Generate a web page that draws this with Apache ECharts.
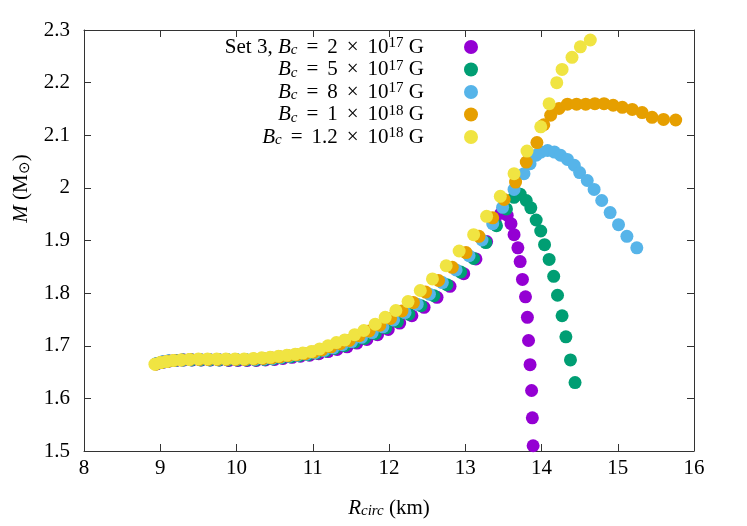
<!DOCTYPE html>
<html>
<head>
<meta charset="utf-8">
<script src="https://cdn.jsdelivr.net/npm/echarts@6/dist/echarts.min.js"></script>
<style>html,body{margin:0;padding:0;background:#fff}#c{width:747px;height:526px}</style>
</head>
<body>
<div id="c"></div>
<script>
// ---- data (R_circ in km, M in solar masses) ----
const seriesNames = ['Bc2e17', 'Bc5e17', 'Bc8e17', 'Bc1e18', 'Bc12e18'];
const seriesColors = ['#9400d3', '#009e73', '#56b4e9', '#e69f00', '#f0e442'];
const xTicks = [8, 9, 10, 11, 12, 13, 14, 15, 16];
const yTicks = [1.5, 1.6, 1.7, 1.8, 1.9, 2.0, 2.1, 2.2, 2.3];

const set3_Bc2e17 = [
 [8.96,1.666],[9.04,1.669],[9.12,1.671],[9.21,1.672],[9.31,1.673],[9.42,1.673],[9.54,1.673],[9.66,1.673],
 [9.78,1.673],[9.90,1.672],[10.02,1.672],[10.14,1.672],[10.26,1.672],[10.38,1.673],[10.50,1.674],[10.61,1.676],
 [10.73,1.678],[10.84,1.680],[10.96,1.682],[11.08,1.685],[11.20,1.689],[11.32,1.693],[11.45,1.698],[11.58,1.705],
 [11.71,1.712],[11.85,1.721],[11.99,1.731],[12.14,1.743],[12.30,1.757],[12.46,1.773],[12.63,1.792],[12.80,1.813],
 [12.98,1.837],[13.14,1.865],[13.28,1.898],[13.39,1.935],[13.47,1.952],[13.55,1.948],[13.60,1.932],[13.64,1.911],
 [13.69,1.886],[13.72,1.860],[13.75,1.826],[13.79,1.793],[13.815,1.754],[13.83,1.710],[13.85,1.664],[13.87,1.615],
 [13.88,1.563],[13.89,1.510]
];
const Bc5e17 = [
 [8.95,1.666],[9.03,1.669],[9.11,1.671],[9.20,1.672],[9.30,1.673],[9.41,1.673],[9.53,1.673],[9.65,1.673],
 [9.77,1.673],[9.89,1.673],[10.01,1.673],[10.13,1.673],[10.25,1.673],[10.37,1.674],[10.48,1.675],[10.59,1.677],
 [10.71,1.679],[10.82,1.681],[10.94,1.683],[11.05,1.686],[11.17,1.690],[11.29,1.695],[11.42,1.700],[11.55,1.707],
 [11.68,1.714],[11.82,1.723],[11.96,1.734],[12.11,1.746],[12.26,1.760],[12.42,1.776],[12.59,1.795],[12.76,1.816],
 [12.94,1.840],[13.11,1.866],[13.27,1.896],[13.41,1.928],[13.54,1.960],[13.64,1.982],[13.72,1.988],[13.80,1.976],
 [13.86,1.962],[13.93,1.939],[13.99,1.918],[14.04,1.892],[14.10,1.864],[14.16,1.832],[14.21,1.796],[14.27,1.757],
 [14.32,1.717],[14.38,1.673],[14.44,1.630]
];
const Bc8e17 = [
 [8.95,1.666],[9.02,1.669],[9.10,1.671],[9.19,1.672],[9.29,1.673],[9.40,1.674],[9.52,1.674],[9.64,1.674],
 [9.76,1.674],[9.88,1.674],[10.00,1.674],[10.12,1.674],[10.24,1.674],[10.36,1.675],[10.47,1.676],[10.58,1.678],
 [10.69,1.680],[10.80,1.682],[10.92,1.684],[11.03,1.687],[11.15,1.691],[11.27,1.696],[11.39,1.702],[11.51,1.708],
 [11.64,1.716],[11.78,1.725],[11.92,1.736],[12.06,1.749],[12.21,1.763],[12.37,1.779],[12.53,1.798],[12.70,1.820],
 [12.88,1.844],[13.05,1.871],[13.22,1.901],[13.36,1.932],[13.49,1.963],[13.64,1.997],[13.77,2.027],[13.85,2.046],
 [13.93,2.062],[13.99,2.068],[14.08,2.071],[14.17,2.068],[14.25,2.062],[14.34,2.054],[14.43,2.043],[14.50,2.029],
 [14.60,2.014],[14.69,1.997],[14.79,1.976],[14.90,1.953],[15.01,1.930],[15.12,1.908],[15.25,1.886]
];
const Bc1e18 = [
 [8.94,1.665],[9.01,1.668],[9.09,1.670],[9.18,1.672],[9.28,1.673],[9.39,1.674],[9.51,1.674],[9.63,1.674],
 [9.75,1.674],[9.87,1.674],[9.99,1.674],[10.11,1.674],[10.23,1.675],[10.35,1.676],[10.46,1.677],[10.57,1.679],
 [10.68,1.681],[10.79,1.683],[10.90,1.685],[11.01,1.688],[11.12,1.692],[11.24,1.698],[11.36,1.704],[11.48,1.710],
 [11.61,1.719],[11.74,1.728],[11.88,1.739],[12.02,1.752],[12.17,1.766],[12.32,1.782],[12.48,1.802],[12.65,1.824],
 [12.83,1.849],[13.01,1.877],[13.18,1.908],[13.36,1.943],[13.51,1.978],[13.66,2.011],[13.80,2.049],[13.94,2.086],
 [14.03,2.120],[14.12,2.138],[14.23,2.151],[14.34,2.159],[14.46,2.159],[14.58,2.159],[14.70,2.160],[14.82,2.160],
 [14.94,2.157],[15.06,2.153],[15.19,2.149],[15.32,2.143],[15.45,2.134],[15.60,2.130],[15.76,2.129]
];
const Bc12e18 = [
 [8.93,1.665],[9.00,1.668],[9.08,1.670],[9.17,1.672],[9.27,1.673],[9.38,1.674],[9.50,1.675],[9.62,1.675],
 [9.74,1.675],[9.86,1.675],[9.98,1.675],[10.10,1.675],[10.22,1.676],[10.33,1.677],[10.44,1.678],[10.55,1.680],
 [10.66,1.682],[10.77,1.684],[10.87,1.686],[10.98,1.689],[11.09,1.694],[11.20,1.700],[11.31,1.706],[11.42,1.711],
 [11.55,1.721],[11.67,1.729],[11.82,1.741],[11.95,1.754],[12.09,1.767],[12.25,1.784],[12.41,1.805],[12.57,1.827],
 [12.75,1.852],[12.92,1.880],[13.11,1.911],[13.28,1.946],[13.46,1.984],[13.64,2.027],[13.81,2.070],[13.99,2.116],
 [14.10,2.160],[14.20,2.200],[14.27,2.225],[14.40,2.248],[14.51,2.268],[14.64,2.281]
];
const seriesData = [set3_Bc2e17, Bc5e17, Bc8e17, Bc1e18, Bc12e18];

const legendText = {
  Bc2e17: '{n|Set 3, }{i|B}{sub|c}{op|=}{n|2}{op|×}{n|10}{sup|17}{n| G}',
  Bc5e17: '{i|B}{sub|c}{op|=}{n|5}{op|×}{n|10}{sup|17}{n| G}',
  Bc8e17: '{i|B}{sub|c}{op|=}{n|8}{op|×}{n|10}{sup|17}{n| G}',
  Bc1e18: '{i|B}{sub|c}{op|=}{n|1}{op|×}{n|10}{sup|18}{n| G}',
  Bc12e18: '{i|B}{sub|c}{op|=}{n|1.2}{op|×}{n|10}{sup|18}{n| G}'
};

// ---- chart ----
const FONT = 'Liberation Serif';
const C = '#000';
const rich = {
  n: {fontFamily: FONT, fontSize: 21, color: C, lineHeight: 22},
  op: {fontFamily: FONT, fontSize: 21, color: C, lineHeight: 22, padding: [0, 9, 0, 9]},
  i: {fontFamily: FONT, fontSize: 21, fontStyle: 'italic', color: C, lineHeight: 22},
  sub: {fontFamily: FONT, fontSize: 15, fontStyle: 'italic', color: C, lineHeight: 12, verticalAlign: 'bottom'},
  subn: {fontFamily: FONT, fontSize: 15, color: C, lineHeight: 12, verticalAlign: 'bottom'},
  sup: {fontFamily: FONT, fontSize: 15, color: C, lineHeight: 12, verticalAlign: 'top'}
};
const axisLineStyle = {color: '#333', width: 1};
const chart = echarts.init(document.getElementById('c'), null, {renderer: 'canvas'});
chart.setOption({
  animation: false,
  backgroundColor: '#fff',
  grid: {left: 84, right: 53, top: 30, bottom: 75, containLabel: false, outerBoundsMode: 'none'},
  legend: {
    orient: 'vertical',
    align: 'right',
    right: 264,
    top: 31,
    icon: 'circle',
    itemWidth: 84,
    itemHeight: 14,
    itemGap: 0.5,
    selectedMode: false,
    data: seriesNames,
    formatter: name => legendText[name],
    textStyle: {rich: rich, fontFamily: FONT, fontSize: 21, lineHeight: 22}
  },
  xAxis: [{
    type: 'value', min: xTicks[0], max: xTicks[xTicks.length - 1], interval: 1,
    axisLine: {show: true, onZero: false, lineStyle: axisLineStyle},
    axisTick: {show: true, inside: true, length: 7, lineStyle: axisLineStyle},
    axisLabel: {fontFamily: FONT, fontSize: 21, color: C, margin: 7},
    splitLine: {show: false},
    name: '{i|R}{sub|circ}{n| (km)}',
    nameLocation: 'middle', nameGap: 46,
    nameTextStyle: {rich: rich}
  }, {
    type: 'value', position: 'top', min: xTicks[0], max: xTicks[xTicks.length - 1], interval: 1,
    axisLine: {show: true, onZero: false, lineStyle: axisLineStyle},
    axisTick: {show: true, inside: true, length: 7, lineStyle: axisLineStyle},
    axisLabel: {show: false}, splitLine: {show: false}
  }],
  yAxis: [{
    type: 'value', min: yTicks[0], max: yTicks[yTicks.length - 1], interval: 0.1,
    axisLine: {show: true, onZero: false, lineStyle: axisLineStyle},
    axisTick: {show: true, inside: true, length: 7, lineStyle: axisLineStyle},
    axisLabel: {fontFamily: FONT, fontSize: 21, color: C, margin: 14},
    splitLine: {show: false},
    name: '{i|M}{n| (M}{subn|⊙}{n|)}',
    nameLocation: 'middle', nameGap: 51, nameRotate: 90,
    nameTextStyle: {rich: rich, padding: [0, 0, 0, 104]}
  }, {
    type: 'value', position: 'right', min: yTicks[0], max: yTicks[yTicks.length - 1], interval: 0.1,
    axisLine: {show: true, onZero: false, lineStyle: axisLineStyle},
    axisTick: {show: true, inside: true, length: 7, lineStyle: axisLineStyle},
    axisLabel: {show: false}, splitLine: {show: false}
  }],
  series: seriesNames.map((nm, k) => ({
    name: nm,
    type: 'scatter',
    xAxisIndex: 0, yAxisIndex: 0,
    symbol: 'circle',
    symbolSize: 13,
    itemStyle: {color: seriesColors[k], opacity: 1},
    emphasis: {disabled: true},
    data: seriesData[k]
  }))
});
</script>
</body>
</html>
